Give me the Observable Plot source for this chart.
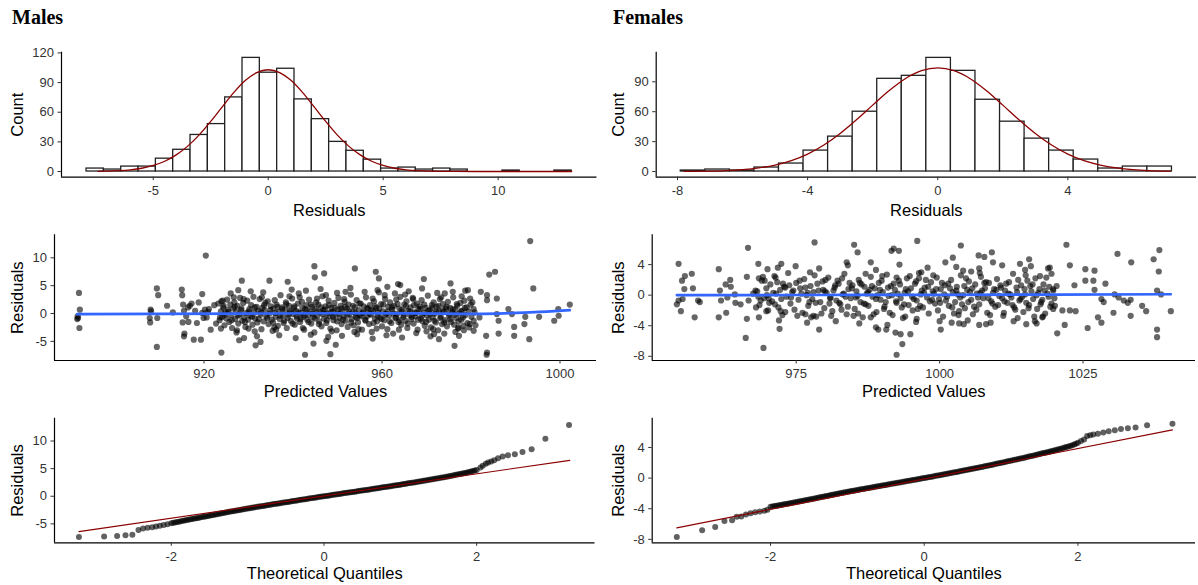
<!DOCTYPE html>
<html><head><meta charset="utf-8">
<script src="https://cdn.jsdelivr.net/npm/d3@7"></script>
<script src="https://cdn.jsdelivr.net/npm/@observablehq/plot@0.6"></script>
<style>
body{margin:0;background:#fff;}
#fig{position:relative;width:1198px;height:585px;overflow:hidden;background:#fff;font-family:"Liberation Sans",Arial,sans-serif;}
.hdr{position:absolute;font-family:"Liberation Serif","Times New Roman",serif;font-weight:bold;font-size:20px;line-height:1;color:#000;}
#fig g[aria-label="x-axis tick label"], #fig g[aria-label="y-axis tick label"]{font-size:13px !important;fill:#333;}
</style></head><body>
<div id="fig">
<div class="hdr" style="left:12px;top:6.5px">Males</div>
<div class="hdr" style="left:613px;top:6.5px">Females</div>
</div>
<script>
// ---------- Histogram data ----------
const maleBinStart = -7.9, maleBinWidth = 0.7536;
const maleCounts = [3,2,5,5,13,22,37,48,75,115,100,104,73,53,30,21,12,3,4,2,3,2,0,0,1,0,0,1];
const femaleBinStart = -7.9, femaleBinWidth = 0.755;
const femaleCounts = [1,2,1,4,8,21,35,60,93,96,114,101,72,50,33,21,12,3,5,5];

// normal curves
const maleCurveX = [-7.4,-7,-6.5,-6,-5.5,-5,-4.5,-4,-3.5,-3,-2.5,-2,-1.5,-1,-0.5,0,0.5,1,1.5,2,2.5,3,3.5,4,4.5,5,5.5,6,6.5,7,7.5,8,9,10,11,12,13.2];
const maleCurveY = [0.21,0.40,0.86,1.7,3.3,6.1,10.4,16.8,25.7,37.1,50.7,65.4,79.8,92.0,100.1,103,100.1,92.0,79.8,65.4,50.7,37.1,25.7,16.8,10.4,6.1,3.3,1.7,0.86,0.40,0.17,0.07,0.01,0,0,0,0];
const femaleCurveX = [-7.8,-7.5,-7,-6.5,-6,-5.5,-5,-4.5,-4,-3.5,-3,-2.5,-2,-1.5,-1,-0.5,0,0.5,1,1.5,2,2.5,3,3.5,4,4.5,5,5.5,6,6.5,7,7.15];
const femaleCurveY = [0.12,0.2,0.45,0.95,1.9,3.6,6.4,10.9,17.5,26.6,38.2,51.9,66.6,81.0,93.1,101.1,104,101.1,93.1,81.0,66.6,51.9,38.2,26.6,17.5,10.9,6.4,3.6,1.9,0.95,0.45,0.35];

// ---------- Residuals vs predicted ----------
const maleScatterSparse = [
[891.9,3.7],[891.6,-0.5],[891.7,-0.8],[892.1,0.7],[892.0,-2.6],[891.5,-1.0],
[909.4,4.5],[909.7,3.3],[908.0,0.7],[907.8,-0.8],[907.9,-1.6],[909.5,-0.8],[909.4,-6.0],[911.7,1.4],[908.1,0.4],
[915.0,4.3],[915.1,3.3],[915.3,1.6],[915.5,0.5],[915.2,-1.6],[915.6,-3.6],[915.5,-4.1],[916.4,1.1],[916.0,-0.5],[916.8,1.4],[917.7,-4.7],[918.4,-1.7],[918.8,2.0],[919.6,3.5],[919.3,-4.7],[920.4,10.4],[919.6,0.1],[920.2,0.7],[920.6,-0.7],[921.1,0.8],[919.9,-0.8],[920.9,0.3],
[923.9,-7.0],[923.8,-2.7],[924.2,2.3],[924.4,1.4],[928.5,5.9],[927.7,4.2],[926.7,2.9],[927.4,-3.0],[927.9,-4.8],[929.0,-4.4],[931.6,-5.7],[932.7,-5.1],[934.7,5.9],[931.4,-3.2],
[938.8,5.7],[944.8,8.5],[944.9,6.5],[947.0,7.2],[944.6,-5.4],[942.7,-7.4],[948.4,-7.3],[949.6,-5.6],[947.5,-4.9],[953.9,8.1],[951.8,3.9],[958.6,7.5],[959.3,6.3],[961.2,4.8],[963.6,5.3],[964.1,5.1],[969.4,6.2],[971.7,-3.7],[975.4,5.4],[976.3,-5.8],[974.1,3.6],[978.7,4.1],[972.8,-4.6],
[982.2,3.9],[983.6,3.3],[983.6,2.4],[984.1,7.0],[985.4,7.5],[985.8,2.7],[983.4,-4.0],[983.6,-7.0],[983.5,-7.4],[986.2,-3.6],[988.4,0.8],[989.7,-4.0],[989.7,-2.4],[992.0,-1.9],[993.1,-4.6],[993.3,13.0],[994.0,4.5],[992.2,-0.6],[995.3,-0.6],[998.7,-1.3],[999.6,0.8],[999.7,-0.4],[1002.2,1.6],[989.2,-0.1],[985.8,-0.1],[986.2,-1.3],[981.9,-0.7],[980.6,0.8],[980.6,-3.1],[979.7,-1.9],[977.2,-2.5],[978.4,-3.0],
[926.0,3.6],[927.3,-3.4],[930.5,4.0],[931.9,-4.1],[933.3,3.8],[936.9,-3.9],[939.7,4.3],[940.6,-4.4],[942.9,4.1],[944.0,-3.8],[946.2,4.4],[947.9,-4.2],[949.9,3.7],[951.0,-4.0],[952.9,4.6],[954.4,-3.7],[956.1,3.9],[957.9,-4.5],[959.0,4.2],[961.0,-3.9],[962.9,3.6],[964.5,-4.3],[966.0,4.0],[967.7,-3.5],[969.0,4.5],[970.9,-4.1],[972.4,3.7],[974.0,-3.6],[975.9,3.9],[977.3,-4.0],[979.3,4.2],[921.5,-2.9],[922.3,1.5],[922.7,-1.8],[918.0,0.5],[916.5,-1.5],[913.0,0.2],[917.2,1.8]
];
const maleScatterDense = [
[923.2,1.8],[923.5,-1.2],[923.8,0.4],[923.9,2.2],[924.1,-0.6],[924.3,1.1],[924.6,-2.1],[924.8,0.2],[925.0,-0.9],[925.2,2.5],
[925.4,0.7],[925.7,-1.5],[925.9,1.6],[926.1,-0.3],[926.3,-2.6],[926.6,0.9],[926.8,2.0],[927.0,-1.0],[927.2,0.3],[927.5,1.4],
[927.7,-1.8],[927.9,-0.2],[928.1,2.8],[928.3,0.6],[928.6,-1.3],[928.8,1.9],[929.0,-0.7],[929.3,-2.4],[929.5,0.1],[929.7,2.3],
[929.9,-1.1],[930.2,0.8],[930.4,-0.4],[930.6,1.5],[930.9,-2.0],[931.1,3.0],[931.3,0.2],[931.5,-0.9],[931.8,1.2],[932.0,-1.6],
[932.2,0.5],[932.5,2.6],[932.7,-0.2],[932.9,-2.8],[933.1,1.0],[933.4,-1.4],[933.6,0.6],[933.8,1.9],[934.0,-0.5],[934.3,2.2],
[934.5,-1.9],[934.7,0.0],[935.0,1.3],[935.2,-1.1],[935.4,-3.1],[935.6,0.9],[935.9,2.4],[936.1,-0.6],[936.3,1.6],[936.6,-2.2],
[936.8,0.3],[937.0,-1.0],[937.2,3.3],[937.5,1.1],[937.7,-0.3],[937.9,-1.7],[938.2,0.7],[938.4,2.0],[938.6,-2.6],[938.8,-0.8],
[939.1,1.4],[939.3,0.2],[939.5,-1.3],[939.8,2.7],[940.0,-0.1],[940.2,1.0],[940.4,-2.0],[940.7,0.5],[940.9,-0.9],[941.1,1.8],
[941.3,3.6],[941.6,-1.5],[941.8,0.1],[942.0,2.1],[942.3,-0.6],[942.5,-2.9],[942.7,0.8],[943.0,1.5],[943.2,-1.1],[943.4,-0.2],
[943.6,2.5],[943.9,0.4],[944.1,-1.8],[944.3,1.2],[944.5,-0.7],[944.8,-3.4],[945.0,0.9],[945.2,2.0],[945.5,-0.4],[945.7,1.6],
[945.9,-1.4],[946.1,0.2],[946.4,-2.3],[946.6,3.1],[946.8,0.6],[947.0,-0.9],[947.3,1.3],[947.5,-1.7],[947.7,0.0],[948.0,2.3],
[948.2,-0.5],[948.4,-2.7],[948.6,1.0],[948.9,0.3],[949.1,-1.2],[949.3,1.9],[949.5,-0.2],[949.8,-3.0],[950.0,0.7],[950.2,2.8],
[950.5,-0.8],[950.7,1.4],[950.9,-1.9],[951.1,0.4],[951.4,-0.4],[951.6,2.1],[951.8,-1.3],[952.1,0.9],[952.3,-2.4],[952.5,1.6],
[952.7,-0.1],[953.0,3.4],[953.2,-1.0],[953.4,0.3],[953.6,-2.1],[953.9,1.1],[954.1,-0.6],[954.3,2.4],[954.6,-1.6],[954.8,0.6],
[955.0,-0.3],[955.2,1.8],[955.5,-2.9],[955.7,0.1],[955.9,1.3],[956.2,-1.1],[956.4,2.9],[956.6,-0.5],[956.8,0.8],[957.1,-1.9],
[957.3,1.5],[957.5,-0.2],[957.7,-3.3],[958.0,0.5],[958.2,2.2],[958.4,-0.9],[958.7,1.0],[958.9,-1.4],[959.1,0.2],[959.3,3.8],
[959.6,-0.7],[959.8,1.7],[960.0,-2.3],[960.2,0.4],[960.5,-1.2],[960.7,2.6],[960.9,0.0],[961.2,-2.8],[961.4,1.2],[961.6,-0.4],
[961.8,2.0],[962.1,-1.7],[962.3,0.7],[962.5,-3.6],[962.7,1.4],[963.0,-0.8],[963.2,2.5],[963.4,-0.1],[963.7,-1.5],[963.9,0.9],
[964.1,3.0],[964.3,-2.0],[964.6,0.3],[964.8,-0.6],[965.0,1.6],[965.3,-1.3],[965.5,2.2],[965.7,-2.6],[965.9,0.5],[966.2,-0.2],
[966.4,1.1],[966.6,-1.0],[966.9,2.8],[967.1,-1.8],[967.3,0.2],[967.5,-0.5],[967.8,1.8],[968.0,-2.9],[968.2,0.8],[968.5,1.3],
[968.7,-0.9],[968.9,2.4],[969.1,-1.4],[969.4,0.1],[969.6,-2.2],[969.8,1.0],[970.1,-0.3],[970.3,3.2],[970.5,-1.1],[970.7,0.6],
[971.0,-2.5],[971.2,1.5],[971.4,-0.7],[971.6,2.0],[971.9,0.0],[972.1,-1.6],[972.3,1.2],[972.6,-3.0],[972.8,0.4],[973.0,2.6],
[973.2,-0.6],[973.5,-1.9],[973.7,1.7],[973.9,0.3],[974.2,-1.2],[974.4,0.9],[974.6,-2.3],[974.8,2.1],[975.1,-0.4],[975.3,1.0],
[975.5,-1.5],[975.8,0.2],[976.0,2.9],[976.2,-2.0],[976.4,0.7],[976.7,-0.8],[976.9,1.4],[977.1,-2.7],[977.4,0.0],[977.6,1.9],
[977.8,-1.1],[978.0,0.5],[978.3,-2.2],[978.5,2.3],[978.7,-0.3],[979.0,1.1],[979.2,-1.7],[979.4,0.4],[979.6,-2.5],[979.9,1.6],
[980.1,-0.6],[980.3,2.0],[980.6,-1.3],[980.8,0.2],[981.0,-2.1],
[930.1,0.4],[930.8,-0.6],[931.4,1.1],[932.3,-1.0],[932.8,0.2],[933.5,1.5],[934.2,-0.8],[934.9,0.6],[935.5,-1.6],[936.0,0.1],
[936.5,1.2],[937.1,-0.4],[937.6,0.8],[938.0,-1.3],[938.5,1.7],[939.0,-0.2],[939.4,0.5],[939.9,-1.8],[940.3,1.3],[940.8,-0.5],
[941.2,0.2],[941.7,-1.0],[942.1,1.0],[942.6,-0.3],[943.1,0.6],[943.5,-1.5],[944.0,1.6],[944.4,0.0],[944.9,-0.9],[945.3,0.4],
[945.8,-1.9],[946.3,1.1],[946.7,-0.1],[947.2,0.7],[947.6,-1.2],[948.1,1.5],[948.5,0.2],[949.0,-0.6],[949.4,1.0],[949.9,-1.4],
[950.3,0.0],[950.8,0.9],[951.2,-1.1],[951.7,1.2],[952.2,-0.3],[952.6,0.5],[953.1,-1.6],[953.5,1.4],[954.0,0.1],[954.4,-0.8],
[954.9,1.8],[955.3,-0.5],[955.8,0.3],[956.3,-1.3],[956.7,1.0],[957.2,-0.1],[957.6,0.6],[958.1,-1.7],[958.5,1.3],[959.0,-0.4],
[959.4,0.9],[959.9,-1.0],[960.3,1.6],[960.8,-0.2],[961.3,0.4],[961.7,-1.4],[962.2,1.1],[962.6,0.0],[963.1,-0.7],[963.5,1.7],
[964.0,-1.2],[964.4,0.6],[964.9,-0.3],[965.4,1.3],[965.8,-1.8],[966.3,0.3],[966.7,-0.6],[967.2,1.5],[967.6,0.1],[968.1,-1.1],
[968.6,0.8],[969.0,-0.4],[969.5,1.6],[969.9,-1.5],[970.4,0.5],[970.8,-0.1],[971.3,1.0],[971.8,-1.3],[972.2,0.3],[972.7,1.4],
[973.1,-0.8],[973.6,0.6],[974.0,-1.6],[974.5,1.2],[975.0,0.0],[975.4,-1.0],[975.9,0.8],[976.3,-0.2],[976.8,1.7],[977.2,-1.4],
[977.7,0.4],[978.2,-0.7],[978.6,1.0],[929.2,-1.5],[928.4,0.9],[927.6,-0.4],[926.9,1.2],[926.2,-1.2],[925.5,0.3],[924.7,-0.2],[923.6,-0.7],
[930.0,-2.7],[933.0,2.9],[936.2,-2.9],[939.2,3.1],[942.2,-2.6],[945.4,2.7],[948.7,-3.2],[951.5,2.6],[954.7,-2.8],[957.9,2.7],
[960.6,3.3],[963.8,-2.9],[967.0,2.6],[970.0,-3.2],[973.3,2.9],[976.5,-3.3],[979.8,2.7],[935.8,-2.5],[941.5,2.9],[947.4,3.3],
[953.8,-3.3],[958.8,-2.7],[965.2,3.4],[971.5,-2.8],[977.9,3.1],[928.9,2.6]
];
const maleSmooth = [[891.5,-0.1],[910,-0.05],[930,0.0],[950,0.05],[965,0.02],[978,-0.05],[986,0.0],[992,0.15],[997,0.35],[1002.2,0.6]];

const femaleScatterSparse = [
[954.5,4.1],[954.5,-0.7],[954.2,-1.2],[954.9,-2.1],[955.2,-0.5],[955.5,0.8],[955.1,1.9],[955.6,2.5],[956.8,2.8],[957.0,0.9],[957.3,-2.9],[957.9,-0.7],[958.2,-0.9],
[961.5,3.4],[961.5,-2.9],[961.7,0.6],[961.9,-0.7],[962.7,1.4],[963.5,2.0],[963.6,1.1],[964.3,0.1],[962.8,-2.3],[964.4,-1.0],[965.3,-1.2],[963.0,-0.3],
[966.6,6.2],[966.4,2.4],[966.4,-3.1],[966.2,-5.6],[966.7,-0.7],[967.9,0.6],[968.4,4.1],[968.5,2.2],[968.5,-2.9],[968.8,-0.7],[969.3,-6.9],[969.8,-2.1],[969.5,1.9],[968.0,-1.6],[967.5,0.2],[970.2,-0.4],
[971.4,2.3],[971.8,3.6],[972.1,-4.4],[972.3,-2.1],[972.4,4.1],[973.1,1.0],
[978.2,6.9],[977.4,3.0],[979.0,-4.5],[978.0,-2.7],[976.6,-2.5],[977.6,-2.9],
[985.1,6.6],[985.7,5.6],[983.8,4.3],[988.0,4.3],[987.1,2.8],[989.3,-4.5],[990.7,-4.5],[988.9,-4.2],
[991.6,5.8],[992.0,6.1],[992.9,5.8],[992.5,2.3],[992.3,-4.9],[993.2,-5.1],[993.5,-6.4],[992.5,-7.8],[994.9,-5.1],[996.1,7.1],[996.8,3.0],[996.4,2.2],
[1001.0,4.3],[1002.3,4.9],[1003.7,6.5],[1004.1,3.2],[1000.2,-4.5],[1002.1,-3.6],[1003.4,-3.7],[1004.2,-3.8],
[1006.8,5.2],[1007.8,5.0],[1009.1,5.6],[1009.3,4.3],[1008.1,-3.8],[1006.9,-3.9],
[1014.0,4.1],[1015.6,4.7],[1015.9,3.8],[1017.5,2.5],[1015.1,-3.8],[1016.6,-3.4],[1017.9,-2.9],[1019.2,3.6],
[1019.8,0.8],[1020.1,-1.4],[1019.8,-1.8],
[1022.1,6.6],[1022.7,3.9],[1023.5,1.3],[1021.4,-2.0],[1022.7,-2.0],[1023.7,-2.1],[1020.5,-5.0],[1021.8,-3.9],
[1025.4,3.4],[1025.4,1.9],[1027.0,3.2],[1026.8,1.9],[1027.0,0.7],[1025.8,-4.3],[1027.6,-2.9],[1028.2,-3.6],[1028.2,-0.5],[1028.6,-0.9],[1028.9,1.5],[1030.3,-2.3],[1031.0,5.4],[1030.5,0.1],[1031.2,-0.3],[1032.1,-0.7],[1032.8,-1.0],[1033.3,-0.6],[1033.3,-2.7],[1033.4,4.3],[1036.0,-2.1],[1037.3,4.7],[1037.9,0.6],[1037.9,-5.5],[1037.9,-4.5],[1038.3,5.9],[1038.2,3.1],[1038.6,0.1],[1040.3,-2.1],[1035.3,-1.4],
[970.0,3.4],[972.0,-3.3],[974.9,3.8],[976.9,-3.6],[979.0,3.5],[981.9,-3.4],[984.0,3.9],[986.0,-3.7],[988.9,3.3],[990.9,-3.9],[993.0,4.0],[995.9,-3.5],[997.9,3.6],[1000.0,-3.4],[1002.9,3.7],[1004.9,-3.3],[1006.9,3.5],[1008.9,-3.6],[1010.9,3.9],[1012.9,-3.4],[1014.9,3.3],[1016.9,-3.7],[1018.9,3.5],[1019.5,2.8],[1020.4,1.2]
];
const femaleScatterDense = [
[968.2,0.5],[968.6,-1.3],[969.0,1.9],[969.4,-0.4],[969.8,0.9],[970.1,-2.0],[970.5,1.4],[970.8,-0.8],[971.2,2.5],[971.5,0.2],
[971.9,-1.6],[972.2,0.7],[972.6,-2.6],[972.9,1.1],[973.3,-0.2],[973.6,2.9],[974.0,-1.1],[974.3,0.4],[974.7,-1.9],[975.0,1.6],
[975.4,-0.6],[975.7,0.9],[976.1,-2.3],[976.4,2.1],[976.8,0.0],[977.1,-1.4],[977.5,1.2],[977.8,-0.5],[978.2,2.6],[978.5,-2.8],
[978.9,0.6],[979.2,-0.9],[979.6,1.8],[979.9,-1.7],[980.3,0.3],[980.6,2.3],[981.0,-0.3],[981.3,-2.1],[981.7,1.0],[982.0,-0.7],
[982.4,1.5],[982.7,-1.2],[983.1,0.1],[983.4,2.8],[983.8,-2.5],[984.1,0.8],[984.5,-0.4],[984.8,1.3],[985.2,-1.8],[985.5,0.5],
[985.9,2.0],[986.2,-0.9],[986.6,-2.9],[986.9,1.1],[987.3,0.2],[987.6,-1.4],[988.0,2.4],[988.3,-0.2],[988.7,0.9],[989.0,-2.2],
[989.4,1.6],[989.7,-0.6],[990.1,0.4],[990.4,-1.5],[990.8,2.7],[991.1,-0.1],[991.5,1.2],[991.8,-2.6],[992.2,0.7],[992.5,-1.0],
[992.9,1.9],[993.2,-0.4],[993.6,-3.0],[993.9,0.3],[994.3,2.2],[994.6,-1.3],[995.0,0.9],[995.3,-2.0],[995.7,1.5],[996.0,-0.7],
[996.4,2.9],[996.7,0.1],[997.1,-1.6],[997.4,1.0],[997.8,-0.3],[998.1,-2.4],[998.5,1.7],[998.8,0.5],[999.2,-1.1],[999.5,2.3],
[999.9,-0.5],[1000.2,0.8],[1000.6,-2.8],[1000.9,1.3],[1001.3,-0.2],[1001.6,-1.4],[1002.0,2.0],[1002.3,0.4],[1002.7,-0.9],[1003.0,1.1],
[1003.4,-2.1],[1003.7,2.6],[1004.1,0.0],[1004.4,-1.7],[1004.8,0.7],[1005.1,1.8],[1005.5,-0.6],[1005.8,-2.5],[1006.2,1.4],[1006.5,0.2],
[1006.9,-1.2],[1007.2,2.4],[1007.6,-0.4],[1007.9,0.9],[1008.3,-2.3],[1008.6,1.6],[1009.0,-0.8],[1009.3,0.3],[1009.7,-1.5],[1010.0,2.1],
[1010.4,-0.1],[1010.7,1.0],[1011.1,-2.7],[1011.4,0.6],[1011.8,-1.0],[1012.1,1.7],[1012.5,-0.3],[1012.8,2.8],[1013.2,-1.9],[1013.5,0.4],
[1013.9,-0.7],[1014.2,1.3],[1014.6,-2.2],[1014.9,0.1],[1015.3,1.9],[1015.6,-1.3],[1016.0,0.5],[1016.3,-0.5],[1016.7,2.2],[1017.0,-1.8],
[1017.4,0.8],[1017.7,-0.9],[1018.1,1.4],[1018.4,-2.4],[1018.8,0.2],[1019.1,1.1],[1019.5,-1.1],[1019.8,0.6],
[968.4,-0.2],[969.2,2.4],[970.3,-1.0],[971.0,0.3],[971.7,1.7],[972.4,-0.5],[973.1,-2.2],[973.8,1.3],[974.5,0.6],[975.2,-2.7],
[975.9,0.2],[976.6,1.0],[977.3,-0.9],[978.0,0.4],[978.7,1.5],[979.4,-2.4],[980.1,2.0],[980.8,-1.1],[981.5,0.6],[982.2,1.9],
[982.9,-1.9],[983.6,-0.2],[984.3,1.6],[985.0,-2.7],[985.7,-0.1],[986.4,1.4],[987.1,-1.2],[987.8,0.7],[988.5,-2.5],[989.2,0.0],
[989.9,1.9],[990.6,-0.9],[991.3,-2.3],[992.0,1.5],[992.7,0.2],[993.4,-1.6],[994.1,0.8],[994.8,2.5],[995.5,-0.5],[996.2,-1.8],
[996.9,0.6],[997.6,2.0],[998.3,-0.8],[999.0,0.2],[999.7,-2.0],[1000.4,1.6],[1001.1,-0.7],[1001.8,0.9],[1002.5,-2.4],[1003.2,0.1],
[1003.9,-1.2],[1004.6,2.2],[1005.3,0.4],[1006.0,-1.5],[1006.7,-0.3],[1007.4,0.6],[1008.1,1.7],[1008.8,-2.6],[1009.5,0.8],[1010.2,-1.3],
[1010.9,-0.4],[1011.6,1.5],[1012.3,0.1],[1013.0,-1.6],[1013.7,2.0],[1014.4,-0.2],[1015.1,-1.0],[1015.8,1.2],[1016.5,-2.8],[1017.2,0.3],
[1017.9,-0.6],[1018.6,2.3],[1019.3,-1.5],[1020.0,-0.4],
[980.0,0.5],[980.9,-0.4],[981.8,1.3],[982.5,-1.0],[983.3,0.2],[984.0,-1.5],[984.7,0.9],[985.4,-0.3],[986.1,1.6],[986.8,-1.1],
[987.5,0.4],[988.2,1.2],[988.9,-0.5],[989.6,0.7],[990.3,-1.8],[991.0,1.0],[991.7,0.0],[992.4,-0.8],[993.1,1.4],[993.8,-1.2],
[994.5,0.5],[995.2,-0.2],[995.9,1.8],[996.6,-1.4],[997.3,0.3],[998.0,1.1],[998.7,-0.6],[999.4,0.8],[1000.1,-1.0],[1000.8,0.1],
[1001.5,1.5],[1002.2,-1.6],[1002.9,0.6],[1003.6,-0.3],[1004.3,1.2],[1005.0,-0.9],[1005.7,0.9],[1006.4,-1.9],[1007.1,0.3],[1007.8,1.6],
[1008.5,-0.4],[1009.2,-1.1],[1009.9,0.7],[1010.6,1.3],[1011.3,-0.8],[1012.0,0.2],[1012.7,-1.3],[1013.4,1.0],[1014.1,-0.5],[1014.8,0.8],
[1015.5,-1.7],[1016.2,1.4],[1016.9,0.0],[1017.6,-1.2],[1018.3,0.6],[1019.0,-0.2],[974.1,-0.3],[975.6,1.9],[977.0,0.3],[978.4,-1.0],
[979.7,0.7],[972.7,1.5],[971.3,-1.2],[969.9,0.0],[985.8,-2.4],[990.0,2.5],[994.0,-2.8],[998.9,2.6],[1003.3,-2.6],[1007.0,2.9],
[1011.2,-2.3],[1015.0,2.6],[1018.0,-2.8],[983.0,2.2],[988.0,-2.9],[1005.5,3.1],[1013.6,-3.0],[996.0,-3.1],[981.1,-2.7]
];
const femaleSmooth = [[954.2,0.0],[975,0.02],[1000,0.05],[1020,0.08],[1040.3,0.12]];

// ---------- Q-Q plots (theoretical quantile, residual) ----------
const maleQQ = [
[-3.21,-7.4],[-2.88,-7.3],[-2.71,-7.2],[-2.6,-7.05],[-2.51,-6.95],[-2.43,-6.1],[-2.37,-5.85],[-2.31,-5.7],[-2.25,-5.6],[-2.2,-5.5],[-2.15,-5.35],[-2.1,-5.2],[-2.05,-5.05],
[-2.00,-4.90],[-1.95,-4.75],[-1.90,-4.60],[-1.85,-4.45],[-1.80,-4.32],[-1.75,-4.18],[-1.70,-4.05],[-1.65,-3.92],[-1.60,-3.78],[-1.55,-3.65],
[-1.50,-3.52],[-1.45,-3.38],[-1.40,-3.25],[-1.35,-3.12],[-1.30,-2.98],[-1.25,-2.85],[-1.20,-2.72],[-1.15,-2.60],[-1.10,-2.47],[-1.05,-2.35],
[-1.00,-2.22],[-0.95,-2.10],[-0.90,-1.98],[-0.85,-1.87],[-0.80,-1.76],[-0.75,-1.64],[-0.70,-1.53],[-0.65,-1.42],[-0.60,-1.31],[-0.55,-1.20],
[-0.50,-1.09],[-0.45,-0.98],[-0.40,-0.87],[-0.35,-0.76],[-0.30,-0.65],[-0.25,-0.54],[-0.20,-0.43],[-0.15,-0.32],[-0.10,-0.22],[-0.05,-0.11],
[0.00,0.00],[0.05,0.10],[0.10,0.21],[0.15,0.31],[0.20,0.42],[0.25,0.52],[0.30,0.62],[0.35,0.72],[0.40,0.83],[0.45,0.93],
[0.50,1.03],[0.55,1.14],[0.60,1.24],[0.65,1.35],[0.70,1.46],[0.75,1.56],[0.80,1.67],[0.85,1.78],[0.90,1.89],[0.95,2.00],
[1.00,2.10],[1.05,2.22],[1.10,2.33],[1.15,2.44],[1.20,2.55],[1.25,2.67],[1.30,2.79],[1.35,2.91],[1.40,3.03],[1.45,3.15],
[1.50,3.27],[1.55,3.40],[1.60,3.53],[1.65,3.66],[1.70,3.80],[1.75,3.94],[1.80,4.08],[1.85,4.23],[1.90,4.38],[1.95,4.55],[2.00,4.75],
[2.05,5.2],[2.08,5.5],[2.12,5.9],[2.15,6.1],[2.19,6.3],[2.23,6.5],[2.28,6.9],[2.34,7.2],[2.41,7.4],[2.5,7.6],[2.6,8.0],[2.72,8.5],[2.9,10.4],[3.21,12.9],
[-1.975,-4.82],[-1.925,-4.67],[-1.875,-4.52],[-1.825,-4.39],[-1.775,-4.25],[-1.725,-4.11],[-1.675,-3.98],[-1.625,-3.85],[-1.575,-3.71],[-1.525,-3.58],
[-1.475,-3.45],[-1.425,-3.31],[-1.375,-3.18],[-1.325,-3.05],[-1.275,-2.92],[-1.225,-2.78],[-1.175,-2.66],[-1.125,-2.53],[-1.075,-2.41],[-1.025,-2.28],
[-0.975,-2.16],[-0.925,-2.04],[-0.875,-1.92],[-0.825,-1.81],[-0.775,-1.70],[-0.725,-1.58],[-0.675,-1.47],[-0.625,-1.36],[-0.575,-1.25],[-0.525,-1.14],
[-0.475,-1.03],[-0.425,-0.92],[-0.375,-0.81],[-0.325,-0.70],[-0.275,-0.59],[-0.225,-0.48],[-0.175,-0.37],[-0.125,-0.27],[-0.075,-0.16],[-0.025,-0.05],
[0.025,0.05],[0.075,0.15],[0.125,0.26],[0.175,0.36],[0.225,0.47],[0.275,0.57],[0.325,0.67],[0.375,0.77],[0.425,0.88],[0.475,0.98],
[0.525,1.08],[0.575,1.19],[0.625,1.29],[0.675,1.40],[0.725,1.51],[0.775,1.61],[0.825,1.72],[0.875,1.83],[0.925,1.94],[0.975,2.05],
[1.025,2.16],[1.075,2.27],[1.125,2.38],[1.175,2.49],[1.225,2.61],[1.275,2.73],[1.325,2.85],[1.375,2.97],[1.425,3.09],[1.475,3.21],
[1.525,3.33],[1.575,3.46],[1.625,3.59],[1.675,3.73],[1.725,3.87],[1.775,4.01],[1.825,4.15],[1.875,4.30],[1.925,4.46],[1.975,4.65]
];
const maleQQLine = [[-3.21,-6.4],[3.22,6.5]];
const femaleQQ = [
[-3.22,-7.7],[-2.89,-6.8],[-2.72,-6.4],[-2.6,-5.6],[-2.5,-5.5],[-2.44,-5.05],[-2.38,-5.0],[-2.32,-4.75],[-2.26,-4.6],[-2.2,-4.45],[-2.14,-4.35],[-2.08,-4.25],[-2.04,-4.15],
[-2.00,-3.75],[-1.95,-3.66],[-1.90,-3.57],[-1.85,-3.48],[-1.80,-3.39],[-1.75,-3.29],[-1.70,-3.20],[-1.65,-3.10],[-1.60,-3.00],[-1.55,-2.90],
[-1.50,-2.80],[-1.45,-2.70],[-1.40,-2.60],[-1.35,-2.49],[-1.30,-2.39],[-1.25,-2.29],[-1.20,-2.19],[-1.15,-2.09],[-1.10,-1.99],[-1.05,-1.89],
[-1.00,-1.79],[-0.95,-1.70],[-0.90,-1.61],[-0.85,-1.52],[-0.80,-1.43],[-0.75,-1.34],[-0.70,-1.25],[-0.65,-1.16],[-0.60,-1.07],[-0.55,-0.98],
[-0.50,-0.89],[-0.45,-0.80],[-0.40,-0.71],[-0.35,-0.62],[-0.30,-0.53],[-0.25,-0.44],[-0.20,-0.35],[-0.15,-0.26],[-0.10,-0.17],[-0.05,-0.08],
[0.00,0.01],[0.05,0.10],[0.10,0.19],[0.15,0.29],[0.20,0.38],[0.25,0.48],[0.30,0.57],[0.35,0.67],[0.40,0.77],[0.45,0.86],
[0.50,0.96],[0.55,1.06],[0.60,1.16],[0.65,1.26],[0.70,1.36],[0.75,1.46],[0.80,1.57],[0.85,1.67],[0.90,1.78],[0.95,1.89],
[1.00,2.00],[1.05,2.11],[1.10,2.22],[1.15,2.33],[1.20,2.44],[1.25,2.55],[1.30,2.66],[1.35,2.78],[1.40,2.90],[1.45,3.02],
[1.50,3.14],[1.55,3.26],[1.60,3.38],[1.65,3.51],[1.70,3.64],[1.75,3.77],[1.80,3.91],[1.85,4.05],[1.90,4.20],[1.95,4.38],[2.00,4.60],
[2.04,4.85],[2.08,5.05],[2.12,5.5],[2.16,5.6],[2.2,5.7],[2.26,5.8],[2.33,5.95],[2.4,6.1],[2.48,6.25],[2.56,6.4],[2.65,6.5],[2.75,6.6],[2.9,6.9],[3.23,7.1],
[-1.975,-3.70],[-1.925,-3.61],[-1.875,-3.52],[-1.825,-3.43],[-1.775,-3.34],[-1.725,-3.24],[-1.675,-3.15],[-1.625,-3.05],[-1.575,-2.95],[-1.525,-2.85],
[-1.475,-2.75],[-1.425,-2.65],[-1.375,-2.54],[-1.325,-2.44],[-1.275,-2.34],[-1.225,-2.24],[-1.175,-2.14],[-1.125,-2.04],[-1.075,-1.94],[-1.025,-1.84],
[-0.975,-1.74],[-0.925,-1.65],[-0.875,-1.56],[-0.825,-1.47],[-0.775,-1.38],[-0.725,-1.29],[-0.675,-1.20],[-0.625,-1.11],[-0.575,-1.02],[-0.525,-0.93],
[-0.475,-0.84],[-0.425,-0.75],[-0.375,-0.66],[-0.325,-0.57],[-0.275,-0.48],[-0.225,-0.39],[-0.175,-0.30],[-0.125,-0.21],[-0.075,-0.12],[-0.025,-0.03],
[0.025,0.05],[0.075,0.14],[0.125,0.24],[0.175,0.33],[0.225,0.43],[0.275,0.52],[0.325,0.62],[0.375,0.72],[0.425,0.81],[0.475,0.91],
[0.525,1.01],[0.575,1.11],[0.625,1.21],[0.675,1.31],[0.725,1.41],[0.775,1.51],[0.825,1.62],[0.875,1.72],[0.925,1.83],[0.975,1.94],
[1.025,2.05],[1.075,2.16],[1.125,2.27],[1.175,2.38],[1.225,2.49],[1.275,2.60],[1.325,2.72],[1.375,2.84],[1.425,2.96],[1.475,3.08],
[1.525,3.20],[1.575,3.32],[1.625,3.44],[1.675,3.57],[1.725,3.70],[1.775,3.84],[1.825,3.98],[1.875,4.12],[1.925,4.29],[1.975,4.48]
];
const femaleQQLine = [[-3.22,-6.5],[3.23,6.3]];

// ---------- ticks / labels ----------
const maleHistXTicks = [-5,0,5,10], maleHistYTicks = [0,30,60,90,120];
const femaleHistXTicks = [-8,-4,0,4], femaleHistYTicks = [0,30,60,90];
const maleFitXTicks = [920,960,1000], maleResYTicks = [-5,0,5,10];
const femaleFitXTicks = [975,1000,1025], femaleResYTicks = [-8,-4,0,4];
const qqXTicks = [-2,0,2];

// ---------- drawing ----------
const fig = document.getElementById("fig");
const FONT = '"Liberation Sans", Arial, sans-serif';
const DARKRED = "#8B0000", BLUE = "#3366FF";

function panel(c) {
  const fmt = d => String(d);
  const svg = Plot.plot({
    width: c.width, height: c.height,
    marginLeft: c.mL, marginRight: c.mR, marginTop: c.mT, marginBottom: c.mB,
    style: {fontFamily: FONT, fontSize: "13px", background: "transparent", overflow: "visible"},
    x: {domain: c.xDomain}, y: {domain: c.yDomain},
    marks: [
      ...c.marks,
      Plot.ruleX([c.xDomain[0]], {stroke: "black", strokeWidth: 1.2}),
      Plot.ruleY([c.yDomain[0]], {stroke: "black", strokeWidth: 1.2}),
      Plot.axisX(c.xTicks, {tickSize: 3.5, tickPadding: 5, tickFormat: fmt, label: null, color: "#333", fontSize: 13}),
      Plot.axisY(c.yTicks, {tickSize: 3.5, tickPadding: 4, tickFormat: fmt, label: null, color: "#333", fontSize: 13}),
      Plot.text([c.xLabel], {text: d => d, frameAnchor: "bottom", dy: c.xTitleDy, fontSize: 16.5, fill: "black", textAnchor: "middle", lineAnchor: "middle"}),
      Plot.text([c.yLabel], {text: d => d, frameAnchor: "left", dx: c.yTitleDx, rotate: -90, fontSize: 16.5, fill: "black", textAnchor: "middle", lineAnchor: "middle"})
    ]
  });
  svg.style.position = "absolute";
  svg.style.left = c.left + "px";
  svg.style.top = c.top + "px";
  fig.appendChild(svg);
}

const bins = (start, w, counts) => counts.map((n, i) => ({x1: start + i * w, x2: start + (i + 1) * w, n}));
const histMarks = (b, cx, cy) => [
  Plot.rectY(b, {x1: "x1", x2: "x2", y: "n", fill: "white", stroke: "#222", strokeWidth: 1.3}),
  Plot.line(cx.map((x, i) => [x, cy[i]]), {stroke: DARKRED, strokeWidth: 1.3, curve: "monotone-x"})
];
const scatterMarks = (pts, smooth) => [
  Plot.dot(pts, {x: d => d[0], y: d => d[1], r: 3.1, fill: "black", fillOpacity: 0.6}),
  Plot.line(smooth, {stroke: BLUE, strokeWidth: 2.7, curve: "natural"})
];
const qqMarks = (pts, line) => [
  Plot.dot(pts, {x: d => d[0], y: d => d[1], r: 3, fill: "black", fillOpacity: 0.62}),
  Plot.line(line, {stroke: DARKRED, strokeWidth: 1.1})
];

// Males
panel({left: 0, top: 30, width: 600, height: 192, mL: 61, mR: 3.5, mT: 21.7, mB: 45.3,
  xDomain: [-8.99, 14.3], yDomain: [-5.75, 120.75], xTicks: maleHistXTicks, yTicks: maleHistYTicks,
  xLabel: "Residuals", yLabel: "Count", xTitleDy: 33.3, yTitleDx: -43.7,
  marks: histMarks(bins(maleBinStart, maleBinWidth, maleCounts), maleCurveX, maleCurveY)});
panel({left: 0, top: 222, width: 600, height: 180, mL: 54, mR: 4, mT: 12.3, mB: 42,
  xDomain: [886.4, 1008.2], yDomain: [-8.43, 14.13], xTicks: maleFitXTicks, yTicks: maleResYTicks,
  xLabel: "Predicted Values", yLabel: "Residuals", xTitleDy: 31.7, yTitleDx: -36.5,
  marks: scatterMarks(maleScatterSparse.concat(maleScatterDense), maleSmooth)});
panel({left: 0, top: 402, width: 600, height: 183, mL: 54, mR: 5.5, mT: 15.7, mB: 42.7,
  xDomain: [-3.53, 3.55], yDomain: [-8.43, 14.13], xTicks: qqXTicks, yTicks: maleResYTicks,
  xLabel: "Theoretical Quantiles", yLabel: "Residuals", xTitleDy: 31, yTitleDx: -36.5,
  marks: qqMarks(maleQQ, maleQQLine)});

// Females
panel({left: 600, top: 30, width: 598, height: 192, mL: 55.7, mR: 2, mT: 21.7, mB: 45.3,
  xDomain: [-8.655, 7.955], yDomain: [-5.7, 119.7], xTicks: femaleHistXTicks, yTicks: femaleHistYTicks,
  xLabel: "Residuals", yLabel: "Count", xTitleDy: 33.3, yTitleDx: -37.4,
  marks: histMarks(bins(femaleBinStart, femaleBinWidth, femaleCounts), femaleCurveX, femaleCurveY)});
panel({left: 600, top: 222, width: 598, height: 180, mL: 51.7, mR: 3, mT: 12.3, mB: 42,
  xDomain: [949.9, 1044.6], yDomain: [-8.55, 7.9], xTicks: femaleFitXTicks, yTicks: femaleResYTicks,
  xLabel: "Predicted Values", yLabel: "Residuals", xTitleDy: 31.7, yTitleDx: -33.4,
  marks: scatterMarks(femaleScatterSparse.concat(femaleScatterDense), femaleSmooth)});
panel({left: 600, top: 402, width: 598, height: 183, mL: 51.7, mR: 3, mT: 15.7, mB: 42.7,
  xDomain: [-3.54, 3.53], yDomain: [-8.45, 7.82], xTicks: qqXTicks, yTicks: femaleResYTicks,
  xLabel: "Theoretical Quantiles", yLabel: "Residuals", xTitleDy: 31, yTitleDx: -33.4,
  marks: qqMarks(femaleQQ, femaleQQLine)});
</script>
</body></html>
